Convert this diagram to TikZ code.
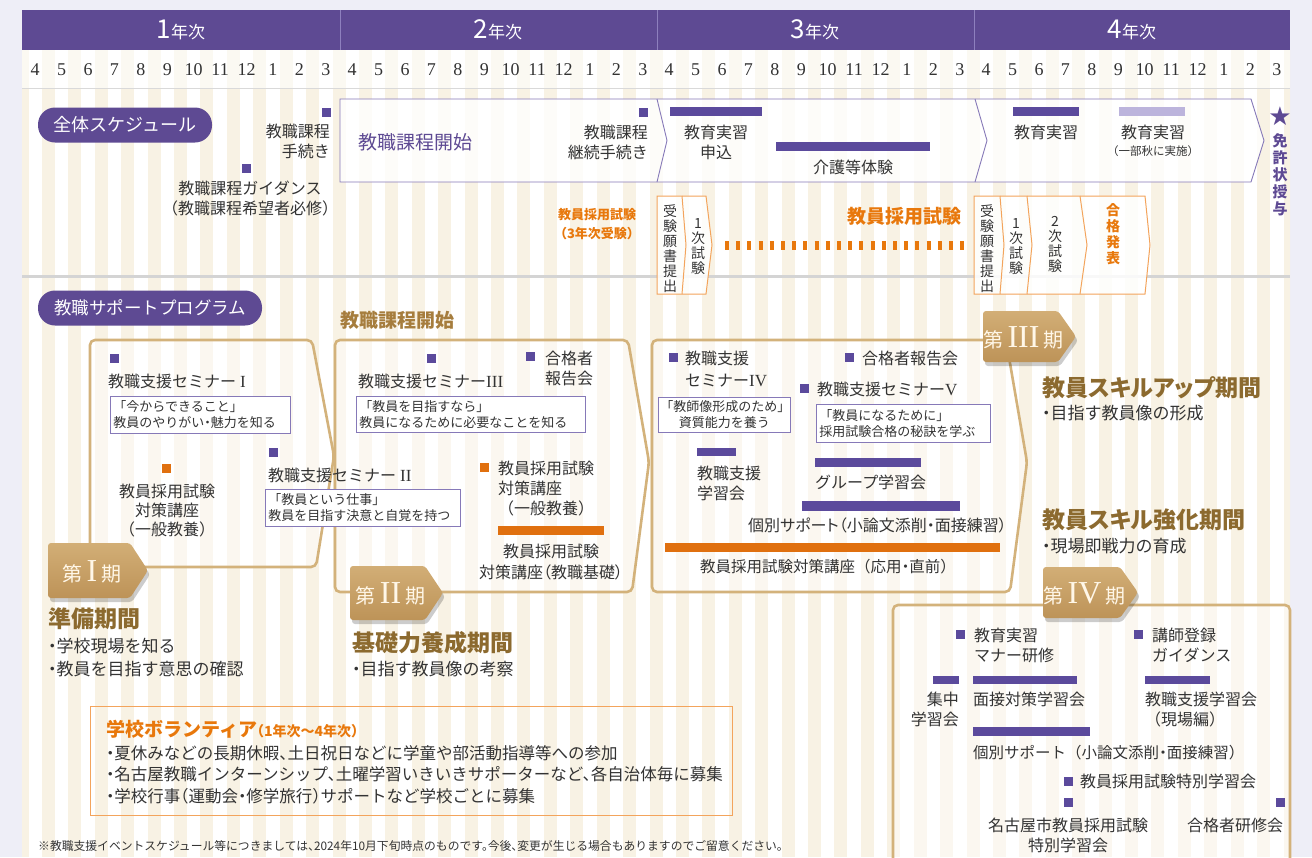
\documentclass[tikz,border=0pt]{standalone}
\usepackage{fontspec}
\setmainfont{Noto Sans CJK JP}
\newfontfamily\ser{Liberation Serif}
\newfontfamily\dv{DejaVu Sans}
\usetikzlibrary{calc}
\definecolor{pur}{HTML}{5E4A93}
\definecolor{purbar}{HTML}{5B4A9C}
\definecolor{purL}{HTML}{8679B8}
\definecolor{purP}{HTML}{BCB4DC}
\definecolor{org}{HTML}{E8780C}
\definecolor{orgbar}{HTML}{E0700F}
\definecolor{orgL}{HTML}{F3A45C}
\definecolor{tanline}{HTML}{D3B27B}
\definecolor{tanA}{HTML}{D2AE76}
\definecolor{tanB}{HTML}{BD9358}
\definecolor{brn}{HTML}{8C6A2F}
\definecolor{tanT}{HTML}{A67D3D}
\definecolor{crm}{HTML}{F8F2E4}
\definecolor{lav}{HTML}{EEEEF7}
\definecolor{txt}{HTML}{333333}
\definecolor{labtxt}{HTML}{FFF7E8}
\definecolor{hdline}{HTML}{8E80BE}
\newcommand\halt{\addfontfeature{RawFeature=+halt}}
\tikzset{
  T/.style={inner sep=0pt, text=txt, font=\fontsize{16}{20}\selectfont},
  P/.style={font=\fontsize{16}{20}\selectfont\addfontfeature{RawFeature=+palt}},
  B/.style={font=\fontsize{17}{23}\selectfont\halt},
  sqp/.style={fill=purbar, minimum size=9pt, inner sep=0pt},
  sqo/.style={fill=orgbar, minimum size=9pt, inner sep=0pt},
  ibox/.style={draw=purL, line width=0.8pt, fill=white, inner xsep=3pt, inner ysep=0pt, text=txt, font=\fontsize{13}{16}\selectfont, anchor=north west},
  vt/.style={inner sep=0pt, text=txt, align=center, font=\fontsize{14}{15}\selectfont, anchor=north},
  pbox/.style={draw=tanline, line width=2.6pt, rounded corners=5pt, fill=white, fill opacity=0.45},
  ttl/.style={inner sep=0pt, text=brn, font=\bfseries\fontsize{23}{25}\selectfont\addfontfeature{RawFeature=+palt}, anchor=north west},
  pill/.style={fill=pur, rounded corners=17pt, text=white, inner sep=0pt, minimum height=35pt, font=\fontsize{18}{18}\selectfont},
  exbox/.style={draw=orgL, line width=1pt, fill=white, fill opacity=0.85},
}
\newcommand\philab[6]{%
  \fill[black, opacity=0.2, rounded corners=3pt] ({#2+2},{#4+4}) -- ({#3+2},{#4+4}) -- ({#3+20},{(#4+#5)/2+4}) -- ({#3+2},{#5+4}) -- ({#2+2},{#5+4}) -- cycle;
  \shade[top color=tanA, bottom color=tanB, rounded corners=3pt] (#2,#4) -- (#3,#4) -- ({#3+18},{(#4+#5)/2}) -- (#3,#5) -- (#2,#5) -- cycle;
  \node[inner sep=0pt, text=labtxt] (#1) at ({(#2+#3)/2+3},{(#4+#5)/2+1}) {{\fontsize{20}{20}\selectfont 第}\hspace{4pt}{\ser\fontsize{32}{32}\selectfont #6}\hspace{4pt}{\fontsize{20}{20}\selectfont 期}};
}
\begin{document}
\begin{tikzpicture}[x=1pt,y=-1pt]
\useasboundingbox (0,0) rectangle (1312,857);
\fill[lav] (0,0) rectangle (1312,857);
\fill[white] (22,50) rectangle (1290,857);
\begin{scope}
\clip (22,50) rectangle (1290,857);
\foreach \i in {0,...,48} \fill[crm] ({22+\i*26.417-6.5},50) rectangle ({22+\i*26.417+6.5},857);
\end{scope}
\fill[white, opacity=0.55] (22,50) rectangle (1290,88);
\draw[black!15, line width=1pt] (22,88.5) -- (1290,88.5);
% header
\fill[pur] (22,10) rectangle (1290,50);
\foreach \xx in {340,657,974} \draw[hdline, line width=0.8pt] (\xx,10) -- (\xx,50);
\node[text=white, inner sep=0pt] (y1) at (181,30) {{\fontsize{26}{26}\selectfont 1}{\fontsize{17}{17}\selectfont 年次}};
\node[text=white, inner sep=0pt] (y2) at (498,30) {{\fontsize{26}{26}\selectfont 2}{\fontsize{17}{17}\selectfont 年次}};
\node[text=white, inner sep=0pt] (y3) at (815,30) {{\fontsize{26}{26}\selectfont 3}{\fontsize{17}{17}\selectfont 年次}};
\node[text=white, inner sep=0pt] (y4) at (1132,30) {{\fontsize{26}{26}\selectfont 4}{\fontsize{17}{17}\selectfont 年次}};
\foreach \m [count=\k from 0] in {4,5,6,7,8,9,10,11,12,1,2,3,4,5,6,7,8,9,10,11,12,1,2,3,4,5,6,7,8,9,10,11,12,1,2,3,4,5,6,7,8,9,10,11,12,1,2,3}
  \node[inner sep=0pt, text=txt, font=\ser\fontsize{18}{18}\selectfont] (m\k) at ({22+(\k+0.5)*26.417},70) {\m};
% ===== overall schedule
\node[pill, minimum width=174pt] (p1) at (125,125) {全体スケジュール};
\draw[purL, line width=0.9pt, fill=white, fill opacity=0.8] (340,99) -- (1251,99) -- (1264,140.5) -- (1251,182) -- (340,182) -- cycle;
\draw[purL, line width=0.9pt] (657,99) -- (667,140.5) -- (657,182);
\draw[purL, line width=0.9pt] (975,99) -- (987,140.5) -- (975,182);
\node[sqp] (sqA) at (326,112) {};
\node[T, align=right, anchor=north east] (tA) at (330,124) {教職課程\\手続き};
\node[sqp] (sqB) at (246,168) {};
\node[T, align=center, anchor=north] (tB) at (250,181) {教職課程ガイダンス\\（教職課程希望者必修）};
\node[inner sep=0pt, text=pur, font=\fontsize{19}{19}\selectfont, anchor=west] (tC) at (358,142) {教職課程開始};
\node[sqp] (sqD) at (643,112) {};
\node[T, align=right, anchor=north east] (tD) at (648,125) {教職課程\\継続手続き};
\fill[purbar] (670,107) rectangle (762,116);
\node[T, align=center, anchor=north] (tE) at (716,125) {教育実習\\申込};
\fill[purbar] (776,142) rectangle (930,151);
\node[T, anchor=north] (tF) at (853,160) {介護等体験};
\fill[purbar] (1013,107) rectangle (1079,116);
\node[T, anchor=north] (tG) at (1046,125) {教育実習};
\fill[purP] (1119,107) rectangle (1185,116);
\node[T, anchor=north] (tH) at (1153,125) {教育実習};
\node[inner sep=0pt, text=txt, font=\fontsize{11.5}{12}\selectfont, anchor=north] (tH2) at (1153,145) {（一部秋に実施）};
\node[inner sep=0pt, text=pur, font=\dv\fontsize{26}{26}\selectfont] (star) at (1280,116) {★};
\node[inner sep=0pt, text=pur, align=center, font=\bfseries\fontsize{15}{17}\selectfont, anchor=north] (lic) at (1280,133) {免\\許\\状\\授\\与};
% divider
\draw[black!17, line width=3pt] (22,276) -- (1290,276);
% exams
\node[inner sep=0pt, text=org, align=center, font=\bfseries\fontsize{13}{19}\selectfont, anchor=north] (ex0) at (597,208) {教員採用試験\\（3年次受験）};
\draw[exbox] (657,196) -- (706,196) -- (712,245) -- (706,294) -- (657,294) -- cycle;
\draw[orgL, line width=1pt] (682,196) -- (686,245) -- (682,294);
\node[vt] (e1a) at (670,204) {受\\験\\願\\書\\提\\出};
\node[vt] (e1b) at (698,218) {1\\次\\試\\験};
\draw[org, line width=9pt, dash pattern=on 4pt off 7.2pt] (725,245) -- (966,245);
\node[inner sep=0pt, text=org, font=\bfseries\fontsize{19}{19}\selectfont, anchor=east] (ex1) at (962,216) {教員採用試験};
\draw[exbox] (974,196) -- (1145,196) -- (1150,245) -- (1145,294) -- (974,294) -- cycle;
\draw[orgL, line width=1pt] (1000,196) -- (1004,245) -- (1000,294);
\draw[orgL, line width=1pt] (1027,196) -- (1032,245) -- (1027,294);
\draw[orgL, line width=1pt] (1080,196) -- (1087,245) -- (1080,294);
\node[vt] (e2a) at (987,204) {受\\験\\願\\書\\提\\出};
\node[vt] (e2b) at (1016,218) {1\\次\\試\\験};
\node[vt] (e2c) at (1055,216) {2\\次\\試\\験};
\node[vt, text=org, font=\bfseries\fontsize{14}{16}\selectfont] (e2d) at (1113,203) {合\\格\\発\\表};
% ===== support program
\node[pill, minimum width=224pt, font=\fontsize{17.5}{18}\selectfont] (p2) at (150,308) {教職サポートプログラム};
\draw[pbox] (140,567) -- (316,567) -- (334,456) -- (312,340) -- (90,340) -- (90,548);
\draw[pbox] (335,340) -- (628,340) -- (649,462) -- (632,592) -- (335,592) -- cycle;
\draw[pbox] (652,340) -- (1006,340) -- (1027,462) -- (1010,592) -- (652,592) -- cycle;
\draw[pbox] (893,870) -- (893,605) -- (1290,605) -- (1290,870);
% phase I
\node[sqp] (s11) at (114,358) {};
\node[T, anchor=north west] (t11) at (108,374) {教職支援セミナー\hspace{4pt}{\ser\fontsize{17}{17}\selectfont I}};
\node[ibox, text width=174pt, minimum height=37pt, align=left] (b11) at (110,396) {「今からできること」\\教員のやりがい{\halt ・}魅力を知る};
\node[sqo] (s12) at (166,468) {};
\node[T, align=center, anchor=north] (t12) at (167,484) {教員採用試験\\[-1pt]対策講座\\[-1pt]（一般教養）};
\node[sqp] (s13) at (273,452) {};
\node[T, anchor=north west] (t13) at (268,468) {教職支援セミナー\hspace{4pt}{\ser\fontsize{17}{17}\selectfont II}};
\node[ibox, text width=189pt, minimum height=37pt, align=left] (b13) at (265,489) {「教員という仕事」\\教員を目指す決意と自覚を持つ};
% phase II
\node[inner sep=0pt, text=tanT, font=\bfseries\fontsize{19}{19}\selectfont, anchor=west] (t20) at (340,320) {教職課程開始};
\node[sqp] (s21) at (431,358) {};
\node[T, anchor=north west] (t21) at (358,374) {教職支援セミナー{\ser\fontsize{17}{17}\selectfont III}};
\node[sqp] (s22) at (530,356) {};
\node[T, align=left, anchor=north west] (t22) at (545,351) {合格者\\報告会};
\node[ibox, text width=223pt, minimum height=36pt, align=left] (b21) at (356,396) {「教員を目指すなら」\\教員になるために必要なことを知る};
\node[sqo] (s23) at (484,467) {};
\node[T, align=left, anchor=north west] (t23) at (498,461) {教員採用試験\\対策講座\\（一般教養）};
\fill[orgbar] (498,526) rectangle (604,535);
\node[T, P, align=center, anchor=north] (t24) at (551,544) {教員採用試験\\[1pt]対策講座（教職基礎）};
% phase III
\node[sqp] (s31) at (673,357) {};
\node[T, align=left, anchor=north west] (t31) at (685,351) {教職支援\\[2pt]セミナー{\ser\fontsize{17}{17}\selectfont IV}};
\node[ibox, text width=128pt, inner xsep=2pt, minimum height=35pt, align=center] (b31) at (658,397) {「教師像形成のため」\\資質能力を養う};
\node[sqp] (s32) at (849,357) {};
\node[T, anchor=north west] (t32) at (862,351) {合格者報告会};
\node[sqp] (s33) at (804,388) {};
\node[T, anchor=north west] (t33) at (817,382) {教職支援セミナー{\ser\fontsize{17}{17}\selectfont V}};
\node[ibox, text width=168pt, minimum height=38pt, align=left] (b32) at (816,404) {「教員になるために」\\採用試験合格の秘訣を学ぶ};
\fill[purbar] (697,448) rectangle (736,456);
\node[T, align=left, anchor=north west] (t34) at (697,466) {教職支援\\学習会};
\fill[purbar] (815,458) rectangle (921,467);
\node[T, anchor=north west] (t35) at (815,475) {グループ学習会};
\fill[purbar] (802,501) rectangle (960,511);
\node[T, P, anchor=north east] (t36) at (1007,518) {個別サポート（小論文添削・面接練習）};
\fill[orgbar] (665,543) rectangle (1000,552);
\node[T, font=\fontsize{15.5}{20}\selectfont, anchor=north] (t37) at (828,559) {教員採用試験対策講座（応用{\halt ・}直前）};
% right side titles
\node[ttl] (h3) at (1042,376) {教員スキルアップ期間};
\node[T, B, anchor=north west] (h3b) at (1042,405) {・目指す教員像の形成};
\node[ttl] (h4) at (1042,509) {教員スキル強化期間};
\node[T, B, anchor=north west] (h4b) at (1042,538) {・現場即戦力の育成};
% bottom left titles
\node[ttl] (h1) at (48,608) {準備期間};
\node[T, B, align=left, anchor=north west] (h1b) at (48,638) {・学校現場を知る\\・教員を目指す意思の確認};
\node[ttl] (h2) at (352,631) {基礎力養成期間};
\node[T, B, anchor=north west] (h2b) at (352,661) {・目指す教員像の考察};
% volunteer
\draw[orgL, line width=1pt] (90,706) rectangle (732,815);
\node[inner sep=0pt, text=org, anchor=west] (v0) at (106,729) {{\bfseries\fontsize{19}{19}\selectfont 学校ボランティア}{\bfseries\fontsize{14}{14}\selectfont\halt （1年次〜4年次）}};
\node[T, align=left, anchor=north west, font=\fontsize{16.5}{21.5}\selectfont\halt] (v1) at (106,745) {・夏休みなどの長期休暇、土日祝日などに学童や部活動指導等への参加\\・名古屋教職インターンシップ、土曜学習いきいきサポーターなど、各自治体毎に募集\\・学校行事（運動会・修学旅行）サポートなど学校ごとに募集};
\node[inner sep=0pt, text=txt, font=\fontsize{11.8}{12}\selectfont\halt, anchor=west] (fn) at (38,846) {※教職支援イベントスケジュール等につきましては、2024年10月下旬時点のものです。今後、変更が生じる場合もありますのでご留意ください。};
% phase IV
\node[sqp] (s41) at (960,634) {};
\node[T, align=left, anchor=north west] (t41) at (974,628) {教育実習\\マナー研修};
\node[sqp] (s42) at (1138,634) {};
\node[T, align=left, anchor=north west] (t42) at (1152,628) {講師登録\\ガイダンス};
\fill[purbar] (933,676) rectangle (959,684);
\node[T, align=right, anchor=north east] (t43) at (959,692) {集中\\学習会};
\fill[purbar] (973,676) rectangle (1077,684);
\node[T, anchor=north west] (t44) at (973,692) {面接対策学習会};
\fill[purbar] (1145,676) rectangle (1210,684);
\node[T, align=left, anchor=north west] (t45) at (1145,692) {教職支援学習会\\（現場編）};
\fill[purbar] (973,727) rectangle (1090,736);
\node[T, font=\fontsize{15.5}{20}\selectfont, anchor=north west] (t46) at (973,745) {個別サポート（小論文添削{\halt ・}面接練習）};
\node[sqp] (s47) at (1068,781) {};
\node[T, anchor=north west] (t47) at (1080,774) {教員採用試験特別学習会};
\node[sqp] (s48) at (1068,802) {};
\node[T, align=center, anchor=north] (t48) at (1068,818) {名古屋市教員採用試験\\特別学習会};
\node[sqp] (s49) at (1280,802) {};
\node[T, anchor=north] (t49) at (1235,818) {合格者研修会};
% phase labels
\philab{L1}{48}{130}{543}{598}{I}
\philab{L2}{350}{425}{566}{620}{II}
\philab{L3}{983}{1058}{311}{362}{III}
\philab{L4}{1043}{1120}{567}{618}{IV}
\end{tikzpicture}
\end{document}
